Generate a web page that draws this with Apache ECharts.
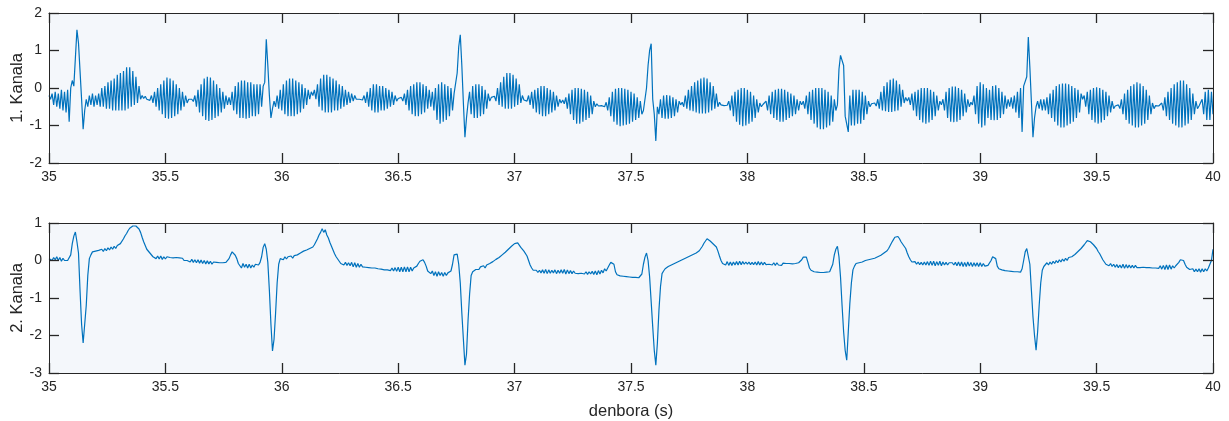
<!DOCTYPE html>
<html>
<head>
<meta charset="utf-8">
<script src="https://cdn.jsdelivr.net/npm/echarts@6/dist/echarts.min.js"></script>
<style>
html,body{margin:0;padding:0;background:#ffffff;}
#chart{width:1229px;height:421px;}
</style>
</head>
<body>
<div id="chart"></div>
<script>
// ---- data ----
const startTime = 35;          // s
const sampleRate = 150;        // samples per second of the traced curves
const xTickValues = [35, 35.5, 36, 36.5, 37, 37.5, 38, 38.5, 39, 39.5, 40];
const ch1Ticks = [-2, -1, 0, 1, 2];
const ch2Ticks = [-3, -2, -1, 0, 1];
const ch1Name = '1. Kanala';
const ch2Name = '2. Kanala';
const xName = 'denbora (s)';

const channel1 = [
-0.2,-0.3,-0.15,-0.45,-0.1,-0.5,-0.15,-0.55,-0.05,-0.6,-0.1,-0.65,-0.05,-0.9,0.0,
0.2,0.05,0.8,1.55,1.2,0.45,-0.3,-1.1,-0.6,-0.3,-0.5,-0.2,-0.45,-0.15,-0.5,
-0.2,-0.45,-0.15,-0.5,0.0,-0.5,0.05,-0.55,0.15,-0.55,0.2,-0.6,0.25,-0.6,0.35,
-0.6,0.4,-0.6,0.45,-0.6,0.55,-0.55,0.55,-0.5,0.45,-0.45,0.3,-0.4,0.05,-0.3,
-0.2,-0.28,-0.22,-0.3,-0.25,-0.33,-0.2,-0.4,-0.1,-0.5,0.0,-0.6,0.1,-0.7,0.2,
-0.8,0.28,-0.82,0.25,-0.8,0.2,-0.75,0.1,-0.7,0.0,-0.6,-0.1,-0.5,-0.2,-0.4,
-0.3,-0.35,-0.3,-0.36,-0.2,-0.5,-0.05,-0.65,0.1,-0.75,0.25,-0.85,0.3,-0.88,0.28,
-0.85,0.2,-0.8,0.1,-0.75,0.0,-0.65,-0.1,-0.55,-0.2,-0.45,-0.25,-0.45,-0.1,-0.6,
0.05,-0.7,0.15,-0.8,0.2,-0.8,0.2,-0.82,0.15,-0.8,0.15,-0.75,0.1,-0.75,0.1,
-0.7,0.1,-0.5,0.05,0.15,1.3,0.6,-0.2,-0.8,-0.55,-0.35,-0.5,-0.2,-0.55,-0.05,
-0.6,0.1,-0.7,0.2,-0.75,0.25,-0.75,0.25,-0.75,0.2,-0.7,0.15,-0.65,0.1,-0.55,
0.0,-0.45,-0.05,-0.3,-0.1,-0.2,-0.05,-0.3,0.1,-0.5,0.25,-0.6,0.35,-0.65,0.35,
-0.65,0.3,-0.65,0.25,-0.6,0.2,-0.6,0.1,-0.55,0.05,-0.5,-0.05,-0.45,-0.1,-0.4,
-0.15,-0.35,-0.2,-0.3,-0.25,-0.3,-0.25,-0.32,-0.2,-0.4,-0.1,-0.5,0.0,-0.6,0.1,
-0.65,0.1,-0.65,0.05,-0.6,0.05,-0.6,0.0,-0.55,-0.05,-0.5,-0.1,-0.45,-0.2,-0.35,
-0.28,-0.32,-0.25,-0.35,-0.15,-0.45,-0.05,-0.6,0.05,-0.7,0.1,-0.75,0.15,-0.75,0.15,
-0.7,0.1,-0.65,0.05,-0.55,-0.05,-0.5,-0.1,-0.6,0.0,-0.85,0.1,-0.95,0.15,-0.9,
0.1,-0.85,0.05,-0.75,0.0,-0.6,-0.15,-0.1,0.4,1.1,1.42,0.6,-0.4,-1.31,-0.8,
-0.4,-0.1,-0.7,0.05,-0.8,0.1,-0.8,0.1,-0.75,0.05,-0.7,-0.05,-0.55,-0.15,-0.35,
-0.25,-0.3,-0.22,-0.35,0.0,-0.45,0.15,-0.5,0.3,-0.55,0.4,-0.55,0.4,-0.55,0.35,
-0.5,0.25,-0.45,0.1,-0.4,-0.2,-0.32,-0.28,-0.35,-0.2,-0.45,-0.1,-0.55,-0.05,-0.65,
0.0,-0.7,0.05,-0.75,0.05,-0.75,0.0,-0.7,-0.05,-0.65,-0.1,-0.6,-0.2,-0.5,-0.3,
-0.4,-0.32,-0.42,-0.25,-0.55,-0.15,-0.7,-0.05,-0.85,0.0,-0.95,0.0,-0.95,-0.02,-0.9,
-0.05,-0.85,-0.1,-0.8,-0.2,-0.7,-0.35,-0.5,-0.42,-0.48,-0.44,-0.47,-0.43,-0.5,-0.38,
-0.6,-0.25,-0.75,-0.1,-0.9,-0.02,-0.98,0.0,-1.02,0.0,-1.0,-0.02,-0.98,-0.05,-0.95,
-0.1,-0.9,-0.15,-0.85,-0.25,-0.8,-0.35,-0.7,-0.6,-0.55,0.0,0.6,1.0,1.18,-0.3,
-0.7,-1.41,-0.5,-0.7,-0.3,-0.8,-0.2,-0.82,-0.19,-0.82,-0.2,-0.8,-0.25,-0.75,-0.3,
-0.65,-0.35,-0.45,-0.38,-0.5,-0.2,-0.55,-0.05,-0.6,0.05,-0.62,0.15,-0.65,0.2,-0.68,
0.25,-0.68,0.28,-0.68,0.25,-0.65,0.15,-0.6,0.05,-0.55,-0.15,-0.5,-0.38,-0.45,-0.4,
-0.47,-0.42,-0.46,-0.35,-0.6,-0.2,-0.75,-0.1,-0.9,-0.05,-0.98,0.0,-1.02,0.0,-1.0,
-0.05,-0.95,-0.1,-0.9,-0.2,-0.8,-0.3,-0.65,-0.4,-0.5,-0.44,-0.48,-0.35,-0.6,-0.2,
-0.7,-0.1,-0.8,-0.05,-0.85,-0.02,-0.9,-0.02,-0.9,-0.05,-0.85,-0.1,-0.8,-0.15,-0.75,
-0.2,-0.7,-0.3,-0.6,-0.35,-0.45,-0.35,-0.55,-0.2,-0.7,-0.1,-0.85,-0.05,-0.95,0.0,
-1.05,0.0,-1.1,0.0,-1.1,-0.05,-1.05,-0.1,-1.0,-0.2,-0.9,-0.3,-0.6,-0.45,0.5,
0.87,0.85,0.6,-0.75,-0.7,-1.17,-0.2,-1.0,-0.05,-1.0,-0.05,-0.95,-0.05,-0.95,-0.1,
-0.85,-0.2,-0.7,-0.35,-0.5,-0.42,-0.47,-0.4,-0.48,-0.3,-0.55,-0.1,-0.6,0.05,-0.62,
0.15,-0.64,0.22,-0.64,0.25,-0.62,0.2,-0.6,0.1,-0.5,-0.05,-0.4,-0.25,-0.35,-0.25,
-0.45,-0.15,-0.6,-0.1,-0.75,-0.05,-0.85,0.0,-0.92,0.0,-0.95,0.0,-0.92,-0.05,-0.85,
-0.1,-0.75,-0.2,-0.6,-0.35,-0.45,-0.3,-0.6,-0.1,-0.8,0.0,-0.9,0.04,-0.91,0.04,
-0.9,0.0,-0.85,-0.05,-0.75,-0.15,-0.65,-0.3,-0.5,-0.38,-0.45,-0.2,-0.7,0.05,-0.95,
0.15,-1.05,0.1,-1.0,0.0,-0.8,-0.05,-0.85,0.05,-0.86,0.07,-0.85,0.0,-0.8,-0.1,
-0.7,-0.2,-0.55,-0.3,-0.5,-0.25,-0.55,-0.2,-0.65,-0.1,-0.8,0.0,-1.17,0.05,0.07,
0.3,1.36,0.55,-0.38,-1.31,-0.8,-0.5,-0.35,-0.55,-0.3,-0.6,-0.3,-0.6,-0.25,-0.7,
-0.15,-0.8,-0.05,-0.9,0.05,-1.0,0.1,-1.05,0.12,-1.05,0.12,-1.0,0.1,-0.95,0.05,
-0.9,0.0,-0.8,-0.05,-0.65,-0.15,-0.3,-0.2,-0.5,-0.1,-0.7,-0.05,-0.85,0.0,-0.92,
0.02,-0.95,0.0,-0.92,-0.05,-0.85,-0.1,-0.75,-0.2,-0.65,-0.35,-0.55,-0.48,-0.52,-0.45,
-0.55,-0.3,-0.7,-0.15,-0.85,-0.05,-0.95,0.05,-1.0,0.1,-1.05,0.15,-1.05,0.12,-1.0,
0.05,-0.95,-0.05,-0.85,-0.2,-0.7,-0.4,-0.55,-0.47,-0.52,-0.48,-0.5,-0.4,-0.6,-0.25,
-0.75,-0.1,-0.85,0.0,-0.95,0.1,-1.0,0.15,-1.05,0.2,-1.05,0.2,-1.0,0.1,-0.95,
0.0,-0.85,-0.15,-0.7,-0.35,-0.55,-0.48,-0.5,-0.3,-0.7,-0.1,-0.85,-0.05,-0.85,-0.1,-0.7
];

const channel2 = [
0.05,0.1,0.0,0.08,0.02,0.1,0.0,0.08,-0.02,0.06,0.0,0.05,0.0,0.02,0.15,
0.45,0.65,0.76,0.5,0.2,-0.8,-1.7,-2.2,-2.15,-1.2,-0.4,0.05,0.15,0.23,0.2,
0.25,0.2,0.27,0.22,0.3,0.24,0.32,0.26,0.34,0.28,0.36,0.3,0.38,0.32,0.4,
0.42,0.45,0.5,0.58,0.66,0.72,0.8,0.86,0.9,0.92,0.9,0.92,0.88,0.84,0.75,
0.62,0.5,0.4,0.3,0.25,0.2,0.15,0.1,0.15,0.05,0.12,0.04,0.12,0.03,0.1,
0.04,0.1,0.05,0.08,0.06,0.07,0.05,0.08,0.03,0.07,0.02,0.06,0.0,0.05,0.0,
0.04,-0.04,0.03,-0.05,0.02,-0.06,0.02,-0.07,0.01,-0.08,0.0,-0.09,-0.01,-0.09,-0.02,
-0.1,-0.04,-0.09,-0.05,-0.08,-0.06,-0.07,-0.06,-0.06,-0.05,-0.02,0.05,0.15,0.23,0.18,
0.14,0.05,-0.08,-0.1,-0.2,-0.08,-0.18,-0.1,-0.2,-0.1,-0.2,-0.12,-0.18,-0.1,-0.15,
-0.12,-0.05,0.1,0.35,0.45,0.3,-0.05,-0.8,-1.7,-2.41,-2.1,-1.4,-0.6,-0.1,0.05,
0.08,0.02,0.1,0.04,0.1,0.05,0.12,0.06,0.13,0.08,0.15,0.12,0.2,0.18,0.25,
0.22,0.28,0.26,0.32,0.3,0.36,0.42,0.5,0.58,0.68,0.75,0.85,0.75,0.82,0.68,
0.6,0.48,0.38,0.28,0.18,0.1,0.04,-0.02,-0.08,-0.04,-0.12,-0.05,-0.13,-0.06,-0.14,
-0.05,-0.17,-0.06,-0.18,-0.08,-0.18,-0.1,-0.17,-0.12,-0.18,-0.14,-0.19,-0.16,-0.2,-0.17,
-0.2,-0.19,-0.22,-0.2,-0.23,-0.2,-0.25,-0.21,-0.25,-0.2,-0.27,-0.2,-0.28,-0.19,-0.29,
-0.18,-0.3,-0.18,-0.3,-0.17,-0.3,-0.17,-0.3,-0.18,-0.28,-0.2,-0.25,-0.15,-0.08,-0.02,
0.0,0.02,-0.05,-0.15,-0.28,-0.3,-0.35,-0.28,-0.4,-0.3,-0.42,-0.3,-0.4,-0.32,-0.42,
-0.32,-0.4,-0.33,-0.38,-0.28,-0.1,0.15,0.18,0.17,-0.1,-0.6,-1.4,-2.1,-2.79,-2.5,
-1.6,-0.9,-0.4,-0.3,-0.26,-0.24,-0.2,-0.24,-0.17,-0.22,-0.14,-0.2,-0.12,-0.17,-0.08,
-0.12,-0.03,-0.06,0.03,0.0,0.08,0.06,0.15,0.12,0.22,0.2,0.3,0.28,0.38,0.36,
0.45,0.49,0.47,0.42,0.35,0.3,0.25,0.2,0.12,0.0,-0.12,-0.2,-0.26,-0.3,-0.26,
-0.32,-0.26,-0.33,-0.25,-0.34,-0.24,-0.35,-0.25,-0.34,-0.26,-0.33,-0.25,-0.35,-0.26,-0.34,
-0.25,-0.34,-0.24,-0.36,-0.25,-0.35,-0.27,-0.35,-0.28,-0.34,-0.29,-0.35,-0.3,-0.34,-0.3,
-0.36,-0.3,-0.37,-0.3,-0.36,-0.29,-0.37,-0.28,-0.38,-0.27,-0.36,-0.26,-0.33,-0.22,-0.28,
-0.2,-0.12,-0.05,0.0,-0.1,-0.3,-0.38,-0.4,-0.41,-0.42,-0.42,-0.43,-0.43,-0.44,-0.44,
-0.44,-0.45,-0.45,-0.45,-0.46,-0.46,-0.45,-0.36,-0.1,0.09,0.2,0.0,-0.44,-1.1,-1.77,
-2.4,-2.79,-2.2,-1.33,-0.7,-0.35,-0.28,-0.22,-0.24,-0.16,-0.2,-0.12,-0.16,-0.08,-0.12,
-0.04,-0.08,0.0,-0.04,0.04,0.0,0.08,0.04,0.12,0.08,0.16,0.12,0.2,0.18,0.26,
0.3,0.38,0.46,0.52,0.58,0.56,0.52,0.48,0.44,0.4,0.36,0.25,0.12,0.0,-0.08,
-0.03,-0.12,-0.03,-0.13,-0.04,-0.13,-0.04,-0.12,-0.03,-0.12,-0.02,-0.11,-0.03,-0.1,-0.04,
-0.1,-0.04,-0.11,-0.05,-0.11,-0.04,-0.12,-0.03,-0.12,-0.04,-0.12,-0.05,-0.11,-0.06,-0.1,
-0.05,-0.12,-0.06,-0.13,-0.06,-0.12,-0.07,-0.13,-0.07,-0.12,-0.08,-0.13,-0.08,-0.12,-0.09,
-0.13,-0.08,-0.12,-0.06,-0.08,0.02,0.09,0.04,0.09,-0.05,-0.2,-0.26,-0.24,-0.3,-0.26,
-0.31,-0.27,-0.32,-0.28,-0.32,-0.29,-0.31,-0.3,-0.3,-0.25,-0.1,0.15,0.3,0.38,0.1,
-0.44,-1.2,-1.9,-2.4,-2.66,-1.9,-1.15,-0.6,-0.25,-0.15,-0.08,-0.12,-0.06,-0.1,-0.04,
-0.07,0.0,-0.03,0.02,-0.02,0.04,0.0,0.06,0.03,0.1,0.06,0.14,0.1,0.2,0.16,
0.26,0.32,0.4,0.48,0.55,0.62,0.67,0.64,0.58,0.5,0.45,0.38,0.32,0.2,0.1,
0.02,-0.04,-0.08,-0.03,-0.1,-0.04,-0.11,-0.05,-0.12,-0.04,-0.12,-0.03,-0.13,-0.02,-0.13,
-0.02,-0.14,-0.03,-0.13,-0.02,-0.14,-0.04,-0.12,-0.05,-0.12,-0.06,-0.11,-0.06,-0.12,-0.05,
-0.14,-0.04,-0.15,-0.04,-0.16,-0.05,-0.16,-0.04,-0.15,-0.05,-0.16,-0.06,-0.15,-0.06,-0.16,
-0.06,-0.16,-0.08,-0.15,-0.1,-0.13,-0.08,0.0,0.1,0.14,0.05,-0.15,-0.22,-0.2,-0.25,
-0.22,-0.27,-0.23,-0.28,-0.24,-0.29,-0.24,-0.3,-0.25,-0.3,-0.25,-0.31,-0.22,0.0,0.23,
0.32,0.34,-0.1,-0.8,-1.5,-2.0,-2.39,-1.9,-1.2,-0.6,-0.26,-0.16,-0.13,-0.06,-0.12,
-0.04,-0.1,-0.02,-0.08,0.0,-0.06,0.02,-0.04,0.04,-0.02,0.06,0.0,0.08,0.03,0.1,
0.08,0.16,0.14,0.24,0.22,0.32,0.32,0.42,0.46,0.53,0.56,0.5,0.52,0.42,0.38,
0.32,0.24,0.18,0.1,0.02,-0.04,-0.1,-0.06,-0.14,-0.08,-0.16,-0.1,-0.18,-0.11,-0.19,
-0.12,-0.2,-0.1,-0.21,-0.11,-0.2,-0.12,-0.2,-0.13,-0.2,-0.13,-0.19,-0.14,-0.19,-0.15,
-0.18,-0.15,-0.19,-0.16,-0.19,-0.16,-0.2,-0.17,-0.2,-0.17,-0.21,-0.14,-0.23,-0.13,-0.24,
-0.12,-0.24,-0.12,-0.23,-0.14,-0.2,-0.14,-0.12,-0.05,0.02,0.05,0.0,-0.1,-0.18,-0.22,
-0.24,-0.27,-0.22,-0.3,-0.23,-0.3,-0.22,-0.31,-0.22,-0.3,-0.22,-0.28,-0.2,-0.1,0.0,0.3
];

// ---- chart ----
const toPairs = arr => arr.map((v, i) => [startTime + i / sampleRate, v]);
const axisColor = '#262626';
const font = '"Liberation Sans", Arial, Helvetica, sans-serif';
const xMin = xTickValues[0], xMax = xTickValues[xTickValues.length - 1];
const xStep = xTickValues[1] - xTickValues[0];
const tickStyle = { show: true, inside: true, length: 10, lineStyle: { color: axisColor, width: 1.3 } };

function xAxes(gridIndex, withName) {
  const base = {
    type: 'value', gridIndex, min: xMin, max: xMax, interval: xStep, z: 5,
    axisLine: { show: true, onZero: false, lineStyle: { color: axisColor, width: 1 } },
    axisTick: tickStyle,
    splitLine: { show: false }
  };
  return [
    Object.assign({}, base, {
      position: 'bottom',
      axisLabel: { show: true, color: axisColor, fontSize: 14, fontFamily: font, margin: 7 },
      name: withName ? xName : '', nameLocation: 'middle', nameGap: 30, nameMoveOverlap: false,
      nameTextStyle: { color: axisColor, fontSize: 16.5, fontFamily: font }
    }),
    Object.assign({}, base, { position: 'top', axisLabel: { show: false } })
  ];
}
function yAxes(gridIndex, ticks, name) {
  const base = {
    type: 'value', gridIndex, min: ticks[0], max: ticks[ticks.length - 1], interval: ticks[1] - ticks[0], z: 5,
    axisLine: { show: true, onZero: false, lineStyle: { color: axisColor, width: 1 } },
    axisTick: tickStyle,
    splitLine: { show: false }
  };
  return [
    Object.assign({}, base, {
      position: 'left',
      axisLabel: { show: true, color: axisColor, fontSize: 14, fontFamily: font, margin: 7 },
      name, nameLocation: 'middle', nameGap: 23, nameRotate: 90, nameMoveOverlap: false,
      nameTextStyle: { color: axisColor, fontSize: 16.5, fontFamily: font }
    }),
    Object.assign({}, base, { position: 'right', axisLabel: { show: false } })
  ];
}

const chart = echarts.init(document.getElementById('chart'), null, { renderer: 'canvas' });
chart.setOption({
  animation: false,
  backgroundColor: '#ffffff',
  grid: [
    { left: 49, right: 16, top: 13, height: 150, show: true, backgroundColor: '#f4f7fb', borderWidth: 0,
      containLabel: false, outerBoundsMode: 'none' },
    { left: 49, right: 16, top: 223, height: 150, show: true, backgroundColor: '#f4f7fb', borderWidth: 0,
      containLabel: false, outerBoundsMode: 'none' }
  ],
  xAxis: [].concat(xAxes(0, false), xAxes(1, true)),
  yAxis: [].concat(yAxes(0, ch1Ticks, ch1Name), yAxes(1, ch2Ticks, ch2Name)),
  series: [
    { type: 'line', xAxisIndex: 0, yAxisIndex: 0, data: toPairs(channel1), showSymbol: false, symbol: 'none',
      lineStyle: { color: '#0072BD', width: 1.2 }, itemStyle: { color: '#0072BD' } },
    { type: 'line', xAxisIndex: 2, yAxisIndex: 2, data: toPairs(channel2), showSymbol: false, symbol: 'none',
      lineStyle: { color: '#0072BD', width: 1.2 }, itemStyle: { color: '#0072BD' } }
  ]
});
</script>
</body>
</html>
